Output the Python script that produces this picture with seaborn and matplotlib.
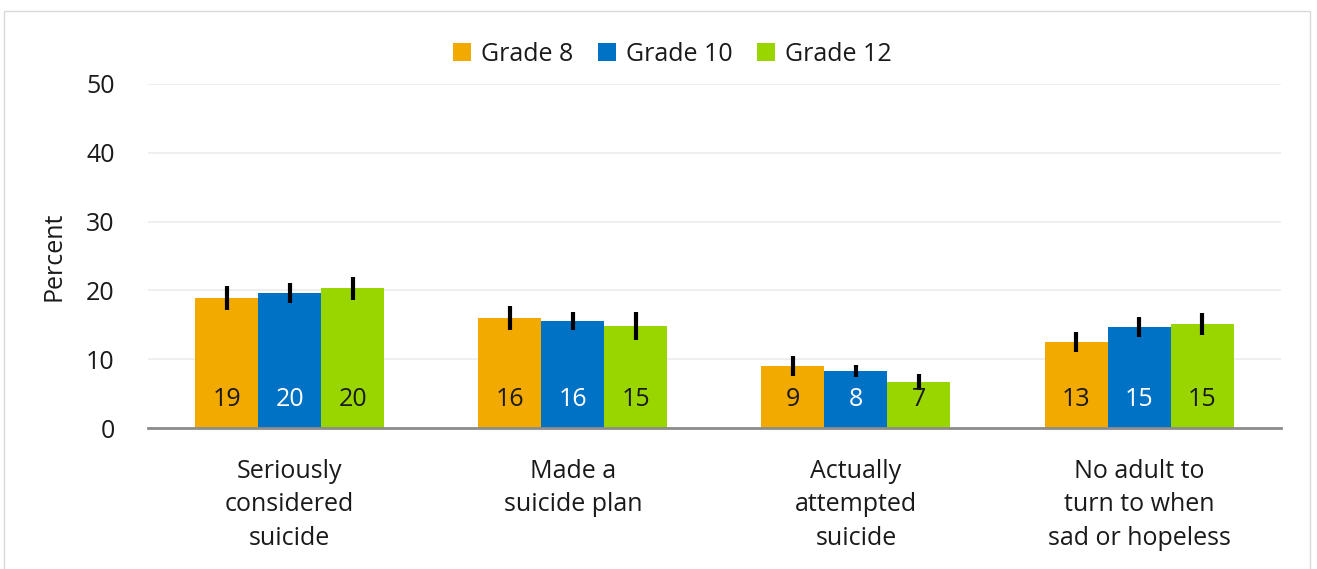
import matplotlib
matplotlib.use("Agg")
import matplotlib.pyplot as plt
import seaborn as sns
import pandas as pd
import numpy as np
from matplotlib.patches import Rectangle
from matplotlib.container import BarContainer

categories = ["Seriously\nconsidered\nsuicide", "Made a\nsuicide plan",
              "Actually\nattempted\nsuicide", "No adult to\nturn to when\nsad or hopeless"]
grades = ["Grade 8", "Grade 10", "Grade 12"]
grade8 = [18.9, 16.0, 9.0, 12.5]
grade10 = [19.6, 15.6, 8.3, 14.7]
grade12 = [20.3, 14.8, 6.7, 15.1]
err8 = [1.7, 1.8, 1.4, 1.4]
err10 = [1.5, 1.3, 0.9, 1.5]
err12 = [1.7, 2.0, 1.2, 1.6]
labels8 = ["19", "16", "9", "13"]
labels10 = ["20", "16", "8", "15"]
labels12 = ["20", "15", "7", "15"]
colors = ["#F2A900", "#0072C6", "#99D600"]
label_colors = ["#1a1a1a", "white", "#1a1a1a"]

sns.set_theme(style="white")
plt.rcParams['font.family'] = ['Open Sans', 'DejaVu Sans']

rows = []
for g, vals in zip(grades, [grade8, grade10, grade12]):
    for c, v in zip(categories, vals):
        rows.append({"category": c, "grade": g, "value": v})
df = pd.DataFrame(rows)

FS = 18
fig = plt.figure(figsize=(13.17, 5.69), dpi=100)
ax = fig.add_axes([0.1124, 0.2478, 0.8600, 0.6046])
sns.barplot(data=df, x="category", y="value", hue="grade", order=categories,
            hue_order=grades, palette=colors, width=0.667, errorbar=None,
            saturation=1, ax=ax, edgecolor="none")

errs = [err8, err10, err12]
labs = [labels8, labels10, labels12]
bar_conts = [c for c in list(ax.containers) if isinstance(c, BarContainer)]
for gi, cont in enumerate(bar_conts):
    for bi, bar in enumerate(cont):
        x = bar.get_x() + bar.get_width() / 2
        h = bar.get_height()
        ax.errorbar(x, h, yerr=errs[gi][bi], fmt="none", ecolor="black",
                    elinewidth=3, capsize=0, zorder=5)
        ax.text(x, 4.1, labs[gi][bi], ha="center", va="center", fontsize=FS,
                color=label_colors[gi], zorder=6)

ax.set_xlim(-0.5, 3.5)
ax.set_ylim(0, 50)
ax.set_yticks([0, 10, 20, 30, 40, 50])
ax.tick_params(axis="y", labelsize=FS, colors="#1a1a1a", length=0, pad=24)
ax.tick_params(axis="x", labelsize=FS, colors="#1a1a1a", length=0, pad=22)
ax.set_xlabel("")
ax.set_ylabel("Percent", fontsize=FS, color="#1a1a1a", labelpad=14)
ax.yaxis.grid(True, color="#ececec", linewidth=1.2)
ax.set_axisbelow(True)
for s in ["top", "right", "left"]:
    ax.spines[s].set_visible(False)
ax.spines["bottom"].set_color("#8c8c8c")
ax.spines["bottom"].set_linewidth(2)
for t in ax.get_xticklabels():
    t.set_linespacing(1.45)

leg = ax.legend(loc="center", bbox_to_anchor=(0.463, 1.087), ncol=3,
                frameon=False, fontsize=FS, handlelength=0.7, handleheight=0.7,
                columnspacing=1.0, handletextpad=0.4)
for txt in leg.get_texts():
    txt.set_color("#1a1a1a")

fig.patches.append(Rectangle((4 / 1317, -0.01), 1306 / 1317, 1 - 11 / 569 + 0.01,
                             transform=fig.transFigure, fill=False,
                             edgecolor="#d9d9d9", linewidth=1))

fig.savefig("out.png", dpi=100)
